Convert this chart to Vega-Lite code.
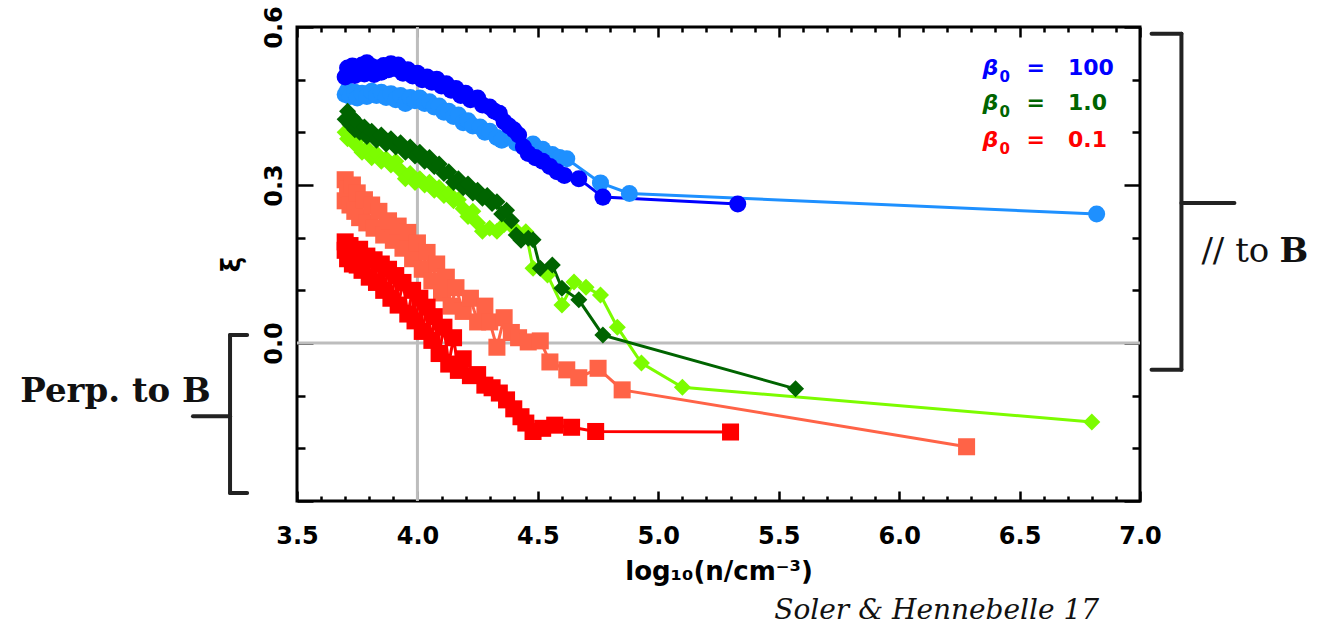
{
  "$schema": "https://vega.github.io/schema/vega-lite/v6.json",
  "width": 843,
  "height": 474,
  "autosize": {"type": "none"},
  "padding": {"left": 297, "top": 27, "right": 184, "bottom": 126},
  "background": "white",
  "config": {
    "view": {"stroke": "black", "strokeWidth": 3},
    "axis": {
      "grid": false, "domain": false, "tickColor": "black", "tickWidth": 2.5,
      "labelFont": "DejaVu Sans", "labelFontWeight": "bold", "labelFontSize": 24, "labelColor": "black",
      "titleFont": "DejaVu Sans", "titleFontWeight": "bold", "titleFontSize": 26, "titleColor": "black",
      "labelFlush": false, "labelOverlap": false
    }
  },
  "data": {"values": [{}]},
  "datasets": {
    "series": [
      {"s": "b100_light", "x": 3.70, "y": 0.472}, {"s": "b100_light", "x": 3.71, "y": 0.480}, {"s": "b100_light", "x": 3.72, "y": 0.468}, {"s": "b100_light", "x": 3.74, "y": 0.476}, {"s": "b100_light", "x": 3.75, "y": 0.465}, {"s": "b100_light", "x": 3.77, "y": 0.474}, {"s": "b100_light", "x": 3.79, "y": 0.468}, {"s": "b100_light", "x": 3.81, "y": 0.478}, {"s": "b100_light", "x": 3.83, "y": 0.470}, {"s": "b100_light", "x": 3.85, "y": 0.476}, {"s": "b100_light", "x": 3.87, "y": 0.466}, {"s": "b100_light", "x": 3.89, "y": 0.473}, {"s": "b100_light", "x": 3.91, "y": 0.462}, {"s": "b100_light", "x": 3.93, "y": 0.470}, {"s": "b100_light", "x": 3.95, "y": 0.455}, {"s": "b100_light", "x": 3.97, "y": 0.466}, {"s": "b100_light", "x": 3.99, "y": 0.460}, {"s": "b100_light", "x": 4.01, "y": 0.465}, {"s": "b100_light", "x": 4.03, "y": 0.455}, {"s": "b100_light", "x": 4.05, "y": 0.458}, {"s": "b100_light", "x": 4.07, "y": 0.448}, {"s": "b100_light", "x": 4.09, "y": 0.450}, {"s": "b100_light", "x": 4.11, "y": 0.438}, {"s": "b100_light", "x": 4.13, "y": 0.440}, {"s": "b100_light", "x": 4.15, "y": 0.430}, {"s": "b100_light", "x": 4.17, "y": 0.433}, {"s": "b100_light", "x": 4.19, "y": 0.418}, {"s": "b100_light", "x": 4.21, "y": 0.422}, {"s": "b100_light", "x": 4.23, "y": 0.412}, {"s": "b100_light", "x": 4.26, "y": 0.410}, {"s": "b100_light", "x": 4.28, "y": 0.400}, {"s": "b100_light", "x": 4.30, "y": 0.402}, {"s": "b100_light", "x": 4.33, "y": 0.390}, {"s": "b100_light", "x": 4.35, "y": 0.385}, {"s": "b100_light", "x": 4.38, "y": 0.395}, {"s": "b100_light", "x": 4.41, "y": 0.380}, {"s": "b100_light", "x": 4.45, "y": 0.372}, {"s": "b100_light", "x": 4.48, "y": 0.378}, {"s": "b100_light", "x": 4.52, "y": 0.368}, {"s": "b100_light", "x": 4.56, "y": 0.358}, {"s": "b100_light", "x": 4.59, "y": 0.352}, {"s": "b100_light", "x": 4.62, "y": 0.350}, {"s": "b100_light", "x": 4.76, "y": 0.304}, {"s": "b100_light", "x": 4.88, "y": 0.284}, {"s": "b100_light", "x": 6.82, "y": 0.245},
      {"s": "b100_dark", "x": 3.70, "y": 0.505}, {"s": "b100_dark", "x": 3.71, "y": 0.522}, {"s": "b100_dark", "x": 3.72, "y": 0.512}, {"s": "b100_dark", "x": 3.73, "y": 0.526}, {"s": "b100_dark", "x": 3.74, "y": 0.508}, {"s": "b100_dark", "x": 3.75, "y": 0.520}, {"s": "b100_dark", "x": 3.76, "y": 0.514}, {"s": "b100_dark", "x": 3.77, "y": 0.528}, {"s": "b100_dark", "x": 3.78, "y": 0.511}, {"s": "b100_dark", "x": 3.79, "y": 0.532}, {"s": "b100_dark", "x": 3.80, "y": 0.518}, {"s": "b100_dark", "x": 3.81, "y": 0.525}, {"s": "b100_dark", "x": 3.82, "y": 0.510}, {"s": "b100_dark", "x": 3.83, "y": 0.522}, {"s": "b100_dark", "x": 3.85, "y": 0.514}, {"s": "b100_dark", "x": 3.86, "y": 0.527}, {"s": "b100_dark", "x": 3.88, "y": 0.519}, {"s": "b100_dark", "x": 3.89, "y": 0.530}, {"s": "b100_dark", "x": 3.91, "y": 0.521}, {"s": "b100_dark", "x": 3.92, "y": 0.528}, {"s": "b100_dark", "x": 3.94, "y": 0.512}, {"s": "b100_dark", "x": 3.96, "y": 0.519}, {"s": "b100_dark", "x": 3.98, "y": 0.507}, {"s": "b100_dark", "x": 4.00, "y": 0.512}, {"s": "b100_dark", "x": 4.02, "y": 0.500}, {"s": "b100_dark", "x": 4.04, "y": 0.505}, {"s": "b100_dark", "x": 4.06, "y": 0.495}, {"s": "b100_dark", "x": 4.08, "y": 0.501}, {"s": "b100_dark", "x": 4.10, "y": 0.488}, {"s": "b100_dark", "x": 4.12, "y": 0.492}, {"s": "b100_dark", "x": 4.14, "y": 0.480}, {"s": "b100_dark", "x": 4.16, "y": 0.483}, {"s": "b100_dark", "x": 4.18, "y": 0.470}, {"s": "b100_dark", "x": 4.20, "y": 0.474}, {"s": "b100_dark", "x": 4.22, "y": 0.462}, {"s": "b100_dark", "x": 4.25, "y": 0.465}, {"s": "b100_dark", "x": 4.27, "y": 0.452}, {"s": "b100_dark", "x": 4.30, "y": 0.448}, {"s": "b100_dark", "x": 4.32, "y": 0.440}, {"s": "b100_dark", "x": 4.34, "y": 0.436}, {"s": "b100_dark", "x": 4.36, "y": 0.420}, {"s": "b100_dark", "x": 4.38, "y": 0.412}, {"s": "b100_dark", "x": 4.40, "y": 0.405}, {"s": "b100_dark", "x": 4.42, "y": 0.395}, {"s": "b100_dark", "x": 4.44, "y": 0.372}, {"s": "b100_dark", "x": 4.46, "y": 0.360}, {"s": "b100_dark", "x": 4.49, "y": 0.352}, {"s": "b100_dark", "x": 4.52, "y": 0.345}, {"s": "b100_dark", "x": 4.55, "y": 0.335}, {"s": "b100_dark", "x": 4.58, "y": 0.325}, {"s": "b100_dark", "x": 4.61, "y": 0.318}, {"s": "b100_dark", "x": 4.67, "y": 0.312}, {"s": "b100_dark", "x": 4.77, "y": 0.277}, {"s": "b100_dark", "x": 5.33, "y": 0.264},
      {"s": "b1_light", "x": 3.70, "y": 0.400}, {"s": "b1_light", "x": 3.71, "y": 0.388}, {"s": "b1_light", "x": 3.72, "y": 0.395}, {"s": "b1_light", "x": 3.74, "y": 0.378}, {"s": "b1_light", "x": 3.75, "y": 0.385}, {"s": "b1_light", "x": 3.77, "y": 0.362}, {"s": "b1_light", "x": 3.79, "y": 0.370}, {"s": "b1_light", "x": 3.81, "y": 0.352}, {"s": "b1_light", "x": 3.83, "y": 0.360}, {"s": "b1_light", "x": 3.85, "y": 0.345}, {"s": "b1_light", "x": 3.87, "y": 0.350}, {"s": "b1_light", "x": 3.89, "y": 0.338}, {"s": "b1_light", "x": 3.91, "y": 0.345}, {"s": "b1_light", "x": 3.93, "y": 0.328}, {"s": "b1_light", "x": 3.95, "y": 0.312}, {"s": "b1_light", "x": 3.97, "y": 0.322}, {"s": "b1_light", "x": 3.99, "y": 0.305}, {"s": "b1_light", "x": 4.01, "y": 0.312}, {"s": "b1_light", "x": 4.03, "y": 0.300}, {"s": "b1_light", "x": 4.05, "y": 0.305}, {"s": "b1_light", "x": 4.07, "y": 0.290}, {"s": "b1_light", "x": 4.09, "y": 0.295}, {"s": "b1_light", "x": 4.11, "y": 0.280}, {"s": "b1_light", "x": 4.13, "y": 0.285}, {"s": "b1_light", "x": 4.15, "y": 0.270}, {"s": "b1_light", "x": 4.17, "y": 0.272}, {"s": "b1_light", "x": 4.19, "y": 0.255}, {"s": "b1_light", "x": 4.21, "y": 0.240}, {"s": "b1_light", "x": 4.23, "y": 0.250}, {"s": "b1_light", "x": 4.25, "y": 0.228}, {"s": "b1_light", "x": 4.27, "y": 0.212}, {"s": "b1_light", "x": 4.30, "y": 0.218}, {"s": "b1_light", "x": 4.33, "y": 0.212}, {"s": "b1_light", "x": 4.36, "y": 0.225}, {"s": "b1_light", "x": 4.40, "y": 0.218}, {"s": "b1_light", "x": 4.45, "y": 0.211}, {"s": "b1_light", "x": 4.48, "y": 0.142}, {"s": "b1_light", "x": 4.54, "y": 0.129}, {"s": "b1_light", "x": 4.60, "y": 0.072}, {"s": "b1_light", "x": 4.65, "y": 0.116}, {"s": "b1_light", "x": 4.70, "y": 0.106}, {"s": "b1_light", "x": 4.76, "y": 0.091}, {"s": "b1_light", "x": 4.83, "y": 0.030}, {"s": "b1_light", "x": 4.93, "y": -0.038}, {"s": "b1_light", "x": 5.10, "y": -0.084}, {"s": "b1_light", "x": 6.80, "y": -0.150},
      {"s": "b1_dark", "x": 3.70, "y": 0.425}, {"s": "b1_dark", "x": 3.71, "y": 0.440}, {"s": "b1_dark", "x": 3.72, "y": 0.415}, {"s": "b1_dark", "x": 3.73, "y": 0.428}, {"s": "b1_dark", "x": 3.74, "y": 0.405}, {"s": "b1_dark", "x": 3.75, "y": 0.418}, {"s": "b1_dark", "x": 3.76, "y": 0.400}, {"s": "b1_dark", "x": 3.78, "y": 0.410}, {"s": "b1_dark", "x": 3.79, "y": 0.392}, {"s": "b1_dark", "x": 3.81, "y": 0.402}, {"s": "b1_dark", "x": 3.83, "y": 0.385}, {"s": "b1_dark", "x": 3.85, "y": 0.395}, {"s": "b1_dark", "x": 3.87, "y": 0.378}, {"s": "b1_dark", "x": 3.89, "y": 0.388}, {"s": "b1_dark", "x": 3.91, "y": 0.372}, {"s": "b1_dark", "x": 3.93, "y": 0.380}, {"s": "b1_dark", "x": 3.95, "y": 0.362}, {"s": "b1_dark", "x": 3.97, "y": 0.372}, {"s": "b1_dark", "x": 3.99, "y": 0.355}, {"s": "b1_dark", "x": 4.01, "y": 0.362}, {"s": "b1_dark", "x": 4.03, "y": 0.345}, {"s": "b1_dark", "x": 4.05, "y": 0.352}, {"s": "b1_dark", "x": 4.07, "y": 0.335}, {"s": "b1_dark", "x": 4.09, "y": 0.340}, {"s": "b1_dark", "x": 4.11, "y": 0.322}, {"s": "b1_dark", "x": 4.13, "y": 0.325}, {"s": "b1_dark", "x": 4.15, "y": 0.305}, {"s": "b1_dark", "x": 4.17, "y": 0.312}, {"s": "b1_dark", "x": 4.19, "y": 0.295}, {"s": "b1_dark", "x": 4.21, "y": 0.302}, {"s": "b1_dark", "x": 4.23, "y": 0.285}, {"s": "b1_dark", "x": 4.25, "y": 0.290}, {"s": "b1_dark", "x": 4.27, "y": 0.275}, {"s": "b1_dark", "x": 4.29, "y": 0.280}, {"s": "b1_dark", "x": 4.31, "y": 0.265}, {"s": "b1_dark", "x": 4.33, "y": 0.268}, {"s": "b1_dark", "x": 4.35, "y": 0.245}, {"s": "b1_dark", "x": 4.37, "y": 0.252}, {"s": "b1_dark", "x": 4.39, "y": 0.232}, {"s": "b1_dark", "x": 4.41, "y": 0.205}, {"s": "b1_dark", "x": 4.43, "y": 0.195}, {"s": "b1_dark", "x": 4.46, "y": 0.199}, {"s": "b1_dark", "x": 4.48, "y": 0.196}, {"s": "b1_dark", "x": 4.51, "y": 0.142}, {"s": "b1_dark", "x": 4.56, "y": 0.148}, {"s": "b1_dark", "x": 4.60, "y": 0.104}, {"s": "b1_dark", "x": 4.67, "y": 0.082}, {"s": "b1_dark", "x": 4.77, "y": 0.015}, {"s": "b1_dark", "x": 5.57, "y": -0.087},
      {"s": "b01_light", "x": 3.70, "y": 0.310}, {"s": "b01_light", "x": 3.70, "y": 0.270}, {"s": "b01_light", "x": 3.71, "y": 0.292}, {"s": "b01_light", "x": 3.72, "y": 0.262}, {"s": "b01_light", "x": 3.73, "y": 0.300}, {"s": "b01_light", "x": 3.74, "y": 0.250}, {"s": "b01_light", "x": 3.75, "y": 0.285}, {"s": "b01_light", "x": 3.76, "y": 0.238}, {"s": "b01_light", "x": 3.78, "y": 0.272}, {"s": "b01_light", "x": 3.79, "y": 0.228}, {"s": "b01_light", "x": 3.81, "y": 0.262}, {"s": "b01_light", "x": 3.82, "y": 0.218}, {"s": "b01_light", "x": 3.84, "y": 0.250}, {"s": "b01_light", "x": 3.86, "y": 0.205}, {"s": "b01_light", "x": 3.88, "y": 0.232}, {"s": "b01_light", "x": 3.90, "y": 0.195}, {"s": "b01_light", "x": 3.92, "y": 0.222}, {"s": "b01_light", "x": 3.94, "y": 0.180}, {"s": "b01_light", "x": 3.96, "y": 0.210}, {"s": "b01_light", "x": 3.98, "y": 0.160}, {"s": "b01_light", "x": 4.00, "y": 0.190}, {"s": "b01_light", "x": 4.02, "y": 0.140}, {"s": "b01_light", "x": 4.04, "y": 0.172}, {"s": "b01_light", "x": 4.06, "y": 0.118}, {"s": "b01_light", "x": 4.08, "y": 0.150}, {"s": "b01_light", "x": 4.10, "y": 0.095}, {"s": "b01_light", "x": 4.12, "y": 0.125}, {"s": "b01_light", "x": 4.14, "y": 0.070}, {"s": "b01_light", "x": 4.16, "y": 0.105}, {"s": "b01_light", "x": 4.19, "y": 0.060}, {"s": "b01_light", "x": 4.22, "y": 0.085}, {"s": "b01_light", "x": 4.25, "y": 0.040}, {"s": "b01_light", "x": 4.28, "y": 0.070}, {"s": "b01_light", "x": 4.30, "y": 0.040}, {"s": "b01_light", "x": 4.33, "y": -0.008}, {"s": "b01_light", "x": 4.36, "y": 0.048}, {"s": "b01_light", "x": 4.39, "y": 0.020}, {"s": "b01_light", "x": 4.42, "y": 0.010}, {"s": "b01_light", "x": 4.46, "y": 0.002}, {"s": "b01_light", "x": 4.51, "y": 0.004}, {"s": "b01_light", "x": 4.55, "y": -0.036}, {"s": "b01_light", "x": 4.62, "y": -0.051}, {"s": "b01_light", "x": 4.67, "y": -0.066}, {"s": "b01_light", "x": 4.75, "y": -0.048}, {"s": "b01_light", "x": 4.85, "y": -0.089}, {"s": "b01_light", "x": 6.28, "y": -0.197},
      {"s": "b01_dark", "x": 3.70, "y": 0.192}, {"s": "b01_dark", "x": 3.70, "y": 0.176}, {"s": "b01_dark", "x": 3.71, "y": 0.160}, {"s": "b01_dark", "x": 3.72, "y": 0.185}, {"s": "b01_dark", "x": 3.73, "y": 0.150}, {"s": "b01_dark", "x": 3.74, "y": 0.172}, {"s": "b01_dark", "x": 3.75, "y": 0.148}, {"s": "b01_dark", "x": 3.76, "y": 0.178}, {"s": "b01_dark", "x": 3.77, "y": 0.138}, {"s": "b01_dark", "x": 3.79, "y": 0.165}, {"s": "b01_dark", "x": 3.80, "y": 0.125}, {"s": "b01_dark", "x": 3.82, "y": 0.158}, {"s": "b01_dark", "x": 3.83, "y": 0.115}, {"s": "b01_dark", "x": 3.85, "y": 0.150}, {"s": "b01_dark", "x": 3.86, "y": 0.100}, {"s": "b01_dark", "x": 3.88, "y": 0.140}, {"s": "b01_dark", "x": 3.89, "y": 0.085}, {"s": "b01_dark", "x": 3.91, "y": 0.128}, {"s": "b01_dark", "x": 3.92, "y": 0.072}, {"s": "b01_dark", "x": 3.94, "y": 0.115}, {"s": "b01_dark", "x": 3.96, "y": 0.055}, {"s": "b01_dark", "x": 3.98, "y": 0.100}, {"s": "b01_dark", "x": 3.99, "y": 0.042}, {"s": "b01_dark", "x": 4.01, "y": 0.085}, {"s": "b01_dark", "x": 4.02, "y": 0.022}, {"s": "b01_dark", "x": 4.04, "y": 0.068}, {"s": "b01_dark", "x": 4.06, "y": 0.005}, {"s": "b01_dark", "x": 4.07, "y": 0.050}, {"s": "b01_dark", "x": 4.09, "y": -0.020}, {"s": "b01_dark", "x": 4.11, "y": 0.030}, {"s": "b01_dark", "x": 4.13, "y": -0.040}, {"s": "b01_dark", "x": 4.15, "y": 0.010}, {"s": "b01_dark", "x": 4.17, "y": -0.052}, {"s": "b01_dark", "x": 4.19, "y": -0.030}, {"s": "b01_dark", "x": 4.22, "y": -0.062}, {"s": "b01_dark", "x": 4.25, "y": -0.060}, {"s": "b01_dark", "x": 4.28, "y": -0.080}, {"s": "b01_dark", "x": 4.31, "y": -0.085}, {"s": "b01_dark", "x": 4.34, "y": -0.095}, {"s": "b01_dark", "x": 4.37, "y": -0.108}, {"s": "b01_dark", "x": 4.40, "y": -0.125}, {"s": "b01_dark", "x": 4.43, "y": -0.140}, {"s": "b01_dark", "x": 4.45, "y": -0.152}, {"s": "b01_dark", "x": 4.48, "y": -0.168}, {"s": "b01_dark", "x": 4.52, "y": -0.162}, {"s": "b01_dark", "x": 4.57, "y": -0.156}, {"s": "b01_dark", "x": 4.64, "y": -0.160}, {"s": "b01_dark", "x": 4.74, "y": -0.168}, {"s": "b01_dark", "x": 5.30, "y": -0.169}
    ]
  },
  "resolve": {"axis": {"x": "independent", "y": "independent"}},
  "layer": [
    {
      "data": {"values": [{"gx": 4.0}]},
      "mark": {"type": "rule", "color": "#bdbdbd", "strokeWidth": 3},
      "encoding": {
        "x": {"field": "gx", "type": "quantitative", "scale": {"domain": [3.5, 7.0], "nice": false, "zero": false},
          "axis": {"orient": "bottom", "values": [3.5, 4.0, 4.5, 5.0, 5.5, 6.0, 6.5, 7.0], "format": ".1f", "tickSize": -10, "labelPadding": 33, "labelBaseline": "top", "title": "log₁₀(n/cm⁻³)", "titlePadding": 10}}
      }
    },
    {
      "data": {"values": [{"gy": 0.0}]},
      "mark": {"type": "rule", "color": "#bdbdbd", "strokeWidth": 3},
      "encoding": {
        "y": {"field": "gy", "type": "quantitative", "scale": {"domain": [-0.3, 0.6], "nice": false, "zero": false},
          "axis": {"orient": "left", "values": [-0.3, 0.0, 0.3, 0.6], "labelExpr": "datum.value < -0.2 ? '' : format(datum.value, '.1f')", "tickSize": -16, "labelPadding": 27, "labelAngle": 270, "labelAlign": "center", "labelBaseline": "bottom", "title": "ξ", "titlePadding": 18}}
      }
    },
    {
      "data": {"name": "series"},
      "mark": {"type": "line", "strokeWidth": 3},
      "encoding": {
        "x": {"field": "x", "type": "quantitative", "scale": {"domain": [3.5, 7.0], "nice": false, "zero": false},
          "axis": {"orient": "bottom", "values": [3.6, 3.7, 3.8, 3.9, 4.1, 4.2, 4.3, 4.4, 4.6, 4.7, 4.8, 4.9, 5.1, 5.2, 5.3, 5.4, 5.6, 5.7, 5.8, 5.9, 6.1, 6.2, 6.3, 6.4, 6.6, 6.7, 6.8, 6.9], "tickSize": -5, "labels": false, "title": null}},
        "y": {"field": "y", "type": "quantitative", "scale": {"domain": [-0.3, 0.6], "nice": false, "zero": false},
          "axis": {"orient": "left", "values": [-0.2, -0.1, 0.1, 0.2, 0.4, 0.5], "tickSize": -8, "labels": false, "title": null}},
        "color": {"field": "s", "type": "nominal", "legend": null,
          "scale": {"domain": ["b100_light", "b100_dark", "b1_light", "b1_dark", "b01_light", "b01_dark"], "range": ["#1e90ff", "#0000ff", "#7cfc00", "#006400", "#ff6347", "#ff0000"]}}
      }
    },
    {
      "data": {"name": "series"},
      "mark": {"type": "point", "filled": true, "opacity": 1, "strokeWidth": 0},
      "encoding": {
        "x": {"field": "x", "type": "quantitative", "scale": {"domain": [3.5, 7.0], "nice": false, "zero": false},
          "axis": {"orient": "top", "values": [3.5, 4.0, 4.5, 5.0, 5.5, 6.0, 6.5, 7.0], "tickSize": -10, "labels": false, "title": null}},
        "y": {"field": "y", "type": "quantitative", "scale": {"domain": [-0.3, 0.6], "nice": false, "zero": false},
          "axis": {"orient": "right", "values": [-0.3, 0.0, 0.3, 0.6], "tickSize": -16, "labels": false, "title": null}},
        "color": {"field": "s", "type": "nominal", "legend": null,
          "scale": {"domain": ["b100_light", "b100_dark", "b1_light", "b1_dark", "b01_light", "b01_dark"], "range": ["#1e90ff", "#0000ff", "#7cfc00", "#006400", "#ff6347", "#ff0000"]}},
        "shape": {"field": "s", "type": "nominal", "legend": null,
          "scale": {"domain": ["b100_light", "b100_dark", "b1_light", "b1_dark", "b01_light", "b01_dark"], "range": ["circle", "circle", "diamond", "diamond", "square", "square"]}},
        "size": {"field": "s", "type": "nominal", "legend": null,
          "scale": {"domain": ["b100_light", "b100_dark", "b1_light", "b1_dark", "b01_light", "b01_dark"], "range": [290, 290, 225, 225, 215, 215]}}
      }
    },
    {
      "mark": {"type": "rule", "color": "#222222", "strokeWidth": 4, "strokeCap": "round"},
      "encoding": {
        "x": {"datum": 7.172, "scale": {"domain": [3.5, 7.0], "nice": false, "zero": false},
          "axis": {"orient": "top", "values": [3.6, 3.7, 3.8, 3.9, 4.1, 4.2, 4.3, 4.4, 4.6, 4.7, 4.8, 4.9, 5.1, 5.2, 5.3, 5.4, 5.6, 5.7, 5.8, 5.9, 6.1, 6.2, 6.3, 6.4, 6.6, 6.7, 6.8, 6.9], "tickSize": -5, "labels": false, "title": null}},
        "y": {"datum": 0.587, "scale": {"domain": [-0.3, 0.6], "nice": false, "zero": false},
          "axis": {"orient": "right", "values": [-0.2, -0.1, 0.1, 0.2, 0.4, 0.5], "tickSize": -8, "labels": false, "title": null}},
        "y2": {"datum": -0.051}
      }
    },
    {
      "mark": {"type": "rule", "color": "#222222", "strokeWidth": 4, "strokeCap": "round"},
      "encoding": {
        "x": {"datum": 7.048, "axis": null}, "x2": {"datum": 7.172},
        "y": {"datum": 0.587, "axis": null}
      }
    },
    {
      "mark": {"type": "rule", "color": "#222222", "strokeWidth": 4, "strokeCap": "round"},
      "encoding": {
        "x": {"datum": 7.048, "axis": null}, "x2": {"datum": 7.172},
        "y": {"datum": -0.051, "axis": null}
      }
    },
    {
      "mark": {"type": "rule", "color": "#222222", "strokeWidth": 4, "strokeCap": "round"},
      "encoding": {
        "x": {"datum": 7.172, "axis": null}, "x2": {"datum": 7.392},
        "y": {"datum": 0.266, "axis": null}
      }
    },
    {
      "mark": {"type": "rule", "color": "#222222", "strokeWidth": 4, "strokeCap": "round"},
      "encoding": {
        "x": {"datum": 3.222, "axis": null},
        "y": {"datum": 0.015, "axis": null}, "y2": {"datum": -0.285}
      }
    },
    {
      "mark": {"type": "rule", "color": "#222222", "strokeWidth": 4, "strokeCap": "round"},
      "encoding": {
        "x": {"datum": 3.222, "axis": null}, "x2": {"datum": 3.293},
        "y": {"datum": 0.015, "axis": null}
      }
    },
    {
      "mark": {"type": "rule", "color": "#222222", "strokeWidth": 4, "strokeCap": "round"},
      "encoding": {
        "x": {"datum": 3.222, "axis": null}, "x2": {"datum": 3.293},
        "y": {"datum": -0.285, "axis": null}
      }
    },
    {
      "mark": {"type": "rule", "color": "#222222", "strokeWidth": 4, "strokeCap": "round"},
      "encoding": {
        "x": {"datum": 3.068, "axis": null}, "x2": {"datum": 3.222},
        "y": {"datum": -0.139, "axis": null}
      }
    },
    {
      "mark": {"type": "text", "text": "Perp. to B", "font": "DejaVu Serif", "fontWeight": "bold", "fontSize": 34, "align": "left", "baseline": "alphabetic", "color": "#111111"},
      "encoding": {"x": {"datum": 2.351, "axis": null}, "y": {"datum": -0.112, "axis": null}}
    },
    {
      "mark": {"type": "text", "text": "// to", "font": "DejaVu Serif", "fontSize": 34, "align": "left", "baseline": "alphabetic", "color": "#111111"},
      "encoding": {"x": {"datum": 7.255, "axis": null}, "y": {"datum": 0.154, "axis": null}}
    },
    {
      "mark": {"type": "text", "text": "B", "font": "DejaVu Serif", "fontWeight": "bold", "fontSize": 34, "align": "left", "baseline": "alphabetic", "color": "#111111"},
      "encoding": {"x": {"datum": 7.579, "axis": null}, "y": {"datum": 0.154, "axis": null}}
    },
    {
      "mark": {"type": "text", "text": "Soler & Hennebelle 17", "font": "DejaVu Serif", "fontStyle": "italic", "fontSize": 28, "align": "center", "baseline": "alphabetic", "color": "#111111"},
      "encoding": {"x": {"datum": 6.156, "axis": null}, "y": {"datum": -0.524, "axis": null}}
    },
    {
      "mark": {"type": "text", "text": "β", "font": "DejaVu Sans", "fontWeight": "bold", "fontStyle": "italic", "fontSize": 22, "align": "left", "baseline": "middle", "color": "#0000ff"},
      "encoding": {"x": {"datum": 6.346, "axis": null}, "y": {"datum": 0.522, "axis": null}}
    },
    {
      "mark": {"type": "text", "text": "0", "font": "DejaVu Sans", "fontWeight": "bold", "fontSize": 15, "align": "left", "baseline": "alphabetic", "color": "#0000ff"},
      "encoding": {"x": {"datum": 6.417, "axis": null}, "y": {"datum": 0.4955, "axis": null}}
    },
    {
      "mark": {"type": "text", "text": "=\u00a0\u00a0\u00a0100", "font": "DejaVu Sans", "fontWeight": "bold", "fontSize": 22, "align": "left", "baseline": "middle", "color": "#0000ff"},
      "encoding": {"x": {"datum": 6.529, "axis": null}, "y": {"datum": 0.522, "axis": null}}
    },
    {
      "mark": {"type": "text", "text": "β", "font": "DejaVu Sans", "fontWeight": "bold", "fontStyle": "italic", "fontSize": 22, "align": "left", "baseline": "middle", "color": "#006400"},
      "encoding": {"x": {"datum": 6.346, "axis": null}, "y": {"datum": 0.456, "axis": null}}
    },
    {
      "mark": {"type": "text", "text": "0", "font": "DejaVu Sans", "fontWeight": "bold", "fontSize": 15, "align": "left", "baseline": "alphabetic", "color": "#006400"},
      "encoding": {"x": {"datum": 6.417, "axis": null}, "y": {"datum": 0.429, "axis": null}}
    },
    {
      "mark": {"type": "text", "text": "=\u00a0\u00a0\u00a01.0", "font": "DejaVu Sans", "fontWeight": "bold", "fontSize": 22, "align": "left", "baseline": "middle", "color": "#006400"},
      "encoding": {"x": {"datum": 6.529, "axis": null}, "y": {"datum": 0.456, "axis": null}}
    },
    {
      "mark": {"type": "text", "text": "β", "font": "DejaVu Sans", "fontWeight": "bold", "fontStyle": "italic", "fontSize": 22, "align": "left", "baseline": "middle", "color": "#ff0000"},
      "encoding": {"x": {"datum": 6.346, "axis": null}, "y": {"datum": 0.386, "axis": null}}
    },
    {
      "mark": {"type": "text", "text": "0", "font": "DejaVu Sans", "fontWeight": "bold", "fontSize": 15, "align": "left", "baseline": "alphabetic", "color": "#ff0000"},
      "encoding": {"x": {"datum": 6.417, "axis": null}, "y": {"datum": 0.359, "axis": null}}
    },
    {
      "mark": {"type": "text", "text": "=\u00a0\u00a0\u00a00.1", "font": "DejaVu Sans", "fontWeight": "bold", "fontSize": 22, "align": "left", "baseline": "middle", "color": "#ff0000"},
      "encoding": {"x": {"datum": 6.529, "axis": null}, "y": {"datum": 0.386, "axis": null}}
    }
  ]
}
